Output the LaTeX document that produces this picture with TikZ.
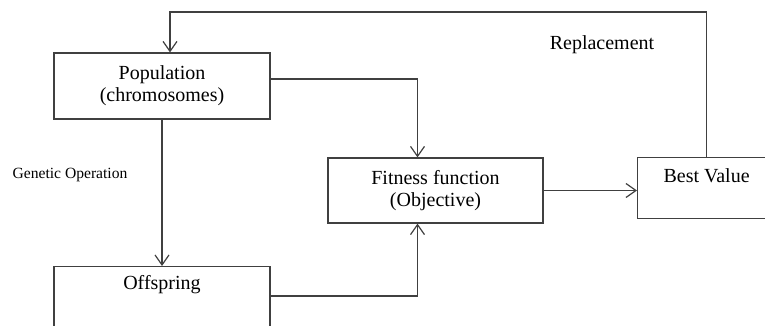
\documentclass[tikz,border=0pt]{standalone}
\usepackage{fontspec}
\setmainfont{Liberation Serif}
\usetikzlibrary{arrows.meta}

\begin{document}
\begin{tikzpicture}[
    x=0.5pt, y=-0.5pt,
    block/.style={rectangle, draw=black!75, line width=0.6pt, align=center, font=\fontsize{10}{11}\selectfont, inner sep=3pt},
    note/.style={font=\fontsize{10}{12}\selectfont},
    small/.style={font=\fontsize{7.8}{9}\selectfont},
    arrow/.style={-{Straight Barb[length=5pt,width=7pt]}, line width=0.6pt, black!75}
]
\useasboundingbox (0,0) rectangle (765,326);
\clip (0,0) rectangle (765,326);

\node[block, minimum width=108pt, minimum height=33pt] (pop) at (162,86) {Population\\(chromosomes)};
\node[block, minimum width=107.5pt, minimum height=32.5pt] (fit) at (435.5,190.5) {Fitness function\\(Objective)};
\node[block, anchor=north west, minimum width=69pt, text height=9.5pt, text depth=15pt] (best) at (637,157) {Best Value};
\node[block, anchor=north, minimum width=108pt, text height=8.5pt, text depth=25.5pt] (off) at (162,266) {Offspring};

\node[small] (genop) at (70,175) {Genetic Operation};
\node[note] (repl) at (602,45) {Replacement};

\coordinate (top) at (0,12);
\coordinate (popin) at ([xshift=4pt]pop.north);

\draw[arrow] (pop.south) -- (off.north);
\draw[arrow] ([yshift=3.5pt]pop.east) -| ([xshift=-9pt]fit.north);
\draw[arrow] ([yshift=-15pt]off.north east) -| ([xshift=-9pt]fit.south);
\draw[arrow] (fit.east) -- (fit.east -| best.west);
\draw[arrow] (best.north) |- (top -| popin) -- (popin);
\end{tikzpicture}
\end{document}
